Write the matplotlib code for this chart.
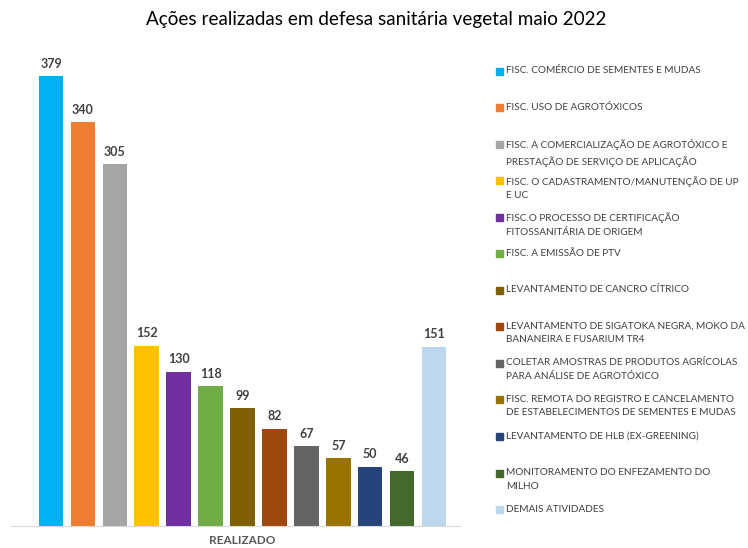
import matplotlib.pyplot as plt
from matplotlib.patches import Rectangle

plt.rcParams['font.family'] = ['Lato', 'DejaVu Sans']

# data
categories = [
    "FISC. COMÉRCIO DE SEMENTES E MUDAS",
    "FISC. USO DE AGROTÓXICOS",
    "FISC. A COMERCIALIZAÇÃO DE AGROTÓXICO E\nPRESTAÇÃO DE SERVIÇO DE APLICAÇÃO",
    "FISC. O CADASTRAMENTO/MANUTENÇÃO DE UP\nE UC",
    "FISC.O PROCESSO DE CERTIFICAÇÃO\nFITOSSANITÁRIA DE ORIGEM",
    "FISC. A EMISSÃO DE PTV",
    "LEVANTAMENTO DE CANCRO CÍTRICO",
    "LEVANTAMENTO DE SIGATOKA NEGRA, MOKO DA\nBANANEIRA E FUSARIUM TR4",
    "COLETAR AMOSTRAS DE PRODUTOS AGRÍCOLAS\nPARA ANÁLISE DE AGROTÓXICO",
    "FISC. REMOTA DO REGISTRO E CANCELAMENTO\nDE ESTABELECIMENTOS DE SEMENTES E MUDAS",
    "LEVANTAMENTO DE HLB (EX-GREENING)",
    "MONITORAMENTO DO ENFEZAMENTO DO\nMILHO",
    "DEMAIS ATIVIDADES",
]
values = [379, 340, 305, 152, 130, 118, 99, 82, 67, 57, 50, 46, 151]
colors = ["#00b0f0", "#ed7d31", "#a5a5a5", "#ffc000", "#7030a0", "#70ad47",
          "#7f6000", "#9e480e", "#636363", "#997300", "#264478", "#43682b",
          "#bdd7ee"]

W, H = 748, 548
fig = plt.figure(figsize=(W / 100, H / 100), dpi=100)
ax = fig.add_axes([11 / W, 22 / H, 449 / W, 450 / H])

x = list(range(len(values)))
bars = ax.bar(x, values, width=0.77, color=colors)
for b, v in zip(bars, values):
    ax.annotate(str(v), (b.get_x() + b.get_width() / 2, v), xytext=(0, 4.5),
                textcoords='offset points', ha='center', va='bottom',
                fontsize=9, fontweight='bold', color='#404040')

ax.set_xlim(-1.254, 12.815)
ax.set_ylim(0, 379)
for s in ['top', 'right', 'left']:
    ax.spines[s].set_visible(False)
ax.spines['bottom'].set_color('#d9d9d9')
ax.set_xticks([])
ax.set_yticks([])

fig.text(376 / W, 1 - 20 / H, "Ações realizadas em defesa sanitária vegetal maio 2022",
         ha='center', va='center', fontsize=13.6, color='#000000')
fig.text(242 / W, 1 - 541 / H, "REALIZADO", ha='center', va='center',
         fontsize=8.5, fontweight='bold', color='#595959')

# legend
for i, (lab, c) in enumerate(zip(categories, colors)):
    y = 71 + i * 36.55
    fig.patches.append(Rectangle((496 / W, 1 - (y + 3.5) / H), 7 / W, 7 / H,
                                 color=c, transform=fig.transFigure, figure=fig))
    fig.text(506 / W, 1 - (y - 5) / H, lab, ha='left', va='top', fontsize=7.2,
             color='#404040', linespacing=1.65)

fig.savefig('out.png', dpi=100)
